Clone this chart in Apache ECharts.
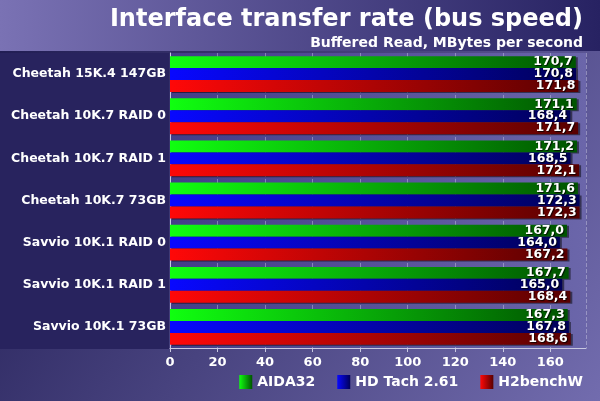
<!DOCTYPE html>
<html>
<head>
<meta charset="utf-8">
<script src="https://cdn.jsdelivr.net/npm/echarts@6/dist/echarts.min.js"></script>
<style>
  html, body { margin: 0; padding: 0; }
  #chart { width: 600px; height: 401px; }
</style>
</head>
<body>
<div id="chart"></div>
<script>
var categories = ['Cheetah 15K.4 147GB', 'Cheetah 10K.7 RAID 0', 'Cheetah 10K.7 RAID 1',
    'Cheetah 10K.7 73GB', 'Savvio 10K.1 RAID 0', 'Savvio 10K.1 RAID 1', 'Savvio 10K.1 73GB'];
var seriesNames = ['AIDA32', 'HD Tach 2.61', 'H2benchW'];
var aida32 = [170.7, 171.1, 171.2, 171.6, 167.0, 167.7, 167.3];
var hdTach = [170.8, 168.4, 168.5, 172.3, 164.0, 165.0, 167.8];
var h2bench = [171.8, 171.7, 172.1, 172.3, 167.2, 168.4, 168.6];

var font = 'DejaVu Sans';

function grad(c1, c2) {
    return new echarts.graphic.LinearGradient(0, 0, 1, 0, [
        {offset: 0, color: c1}, {offset: 1, color: c2}
    ]);
}

function makeSeries(name, data, light, dark) {
    return {
        name: name,
        type: 'bar',
        data: data,
        barGap: '0%',
        barCategoryGap: '15%',
        itemStyle: {
            color: grad(light, dark),
            shadowColor: 'rgba(0,0,0,0.5)',
            shadowOffsetX: 2,
            shadowOffsetY: 1
        },
        label: {
            show: true,
            position: 'insideRight',
            distance: 3,
            color: '#fff',
            fontFamily: font,
            fontWeight: 'bold',
            fontSize: 12.5,
            textShadowColor: 'rgba(0,0,0,0.8)',
            textShadowOffsetX: 1,
            textShadowOffsetY: 1,
            textShadowBlur: 1,
            formatter: function (p) { return p.value.toFixed(1).replace('.', ','); }
        }
    };
}

var chart = echarts.init(document.getElementById('chart'));

var option = {
    backgroundColor: new echarts.graphic.LinearGradient(0, 0, 1, 1, [
        {offset: 0, color: '#1e1a50'}, {offset: 1, color: '#726cae'}
    ]),
    graphic: [
        {
            type: 'rect', z: -10, left: 0, top: 0,
            shape: {width: 600, height: 51},
            style: {fill: grad('#7a72b4', '#272262')}
        },
        {
            type: 'rect', z: -10, left: 0, top: 53,
            shape: {width: 169, height: 296},
            style: {fill: '#28235e'}
        }
    ],
    title: [
        {
            text: 'Interface transfer rate (bus speed)',
            right: 12, top: 3,
            textStyle: {color: '#fff', fontFamily: font, fontWeight: 'bold', fontSize: 24}
        },
        {
            text: 'Buffered Read, MBytes per second',
            right: 12, top: 31,
            textStyle: {color: '#fff', fontFamily: font, fontWeight: 'bold', fontSize: 14}
        }
    ],
    legend: {
        data: seriesNames,
        right: 12, top: 370,
        icon: 'rect',
        itemWidth: 13, itemHeight: 14,
        itemGap: 22,
        textStyle: {color: '#fff', fontFamily: font, fontWeight: 'bold', fontSize: 14}
    },
    grid: {
        left: 170, right: 14, top: 53, bottom: 53,
        show: true,
        borderWidth: 0,
        backgroundColor: grad('#433e88', '#6b66aa')
    },
    xAxis: {
        type: 'value',
        min: 0, max: 175, interval: 20,
        axisLabel: {showMaxLabel: false, color: '#fff', fontFamily: font, fontWeight: 'bold', fontSize: 13, margin: 8},
        axisLine: {show: true, lineStyle: {color: '#c8c8e0', width: 1}},
        axisTick: {show: true, length: 4, lineStyle: {color: '#c8c8e0'}},
        splitLine: {show: true, lineStyle: {color: 'rgba(220,220,240,0.4)', type: 'dashed'}}
    },
    yAxis: {
        type: 'category',
        data: categories,
        inverse: true,
        axisLabel: {color: '#fff', fontFamily: font, fontWeight: 'bold', fontSize: 12.5, margin: 4},
        axisLine: {show: true, lineStyle: {color: '#c8c8e0'}},
        axisTick: {show: false}
    },
    series: [
        makeSeries(seriesNames[0], aida32, '#10ff10', '#005400'),
        makeSeries(seriesNames[1], hdTach, '#0808ff', '#000058'),
        makeSeries(seriesNames[2], h2bench, '#ff0808', '#580000')
    ]
};

chart.setOption(option);
</script>
</body>
</html>
